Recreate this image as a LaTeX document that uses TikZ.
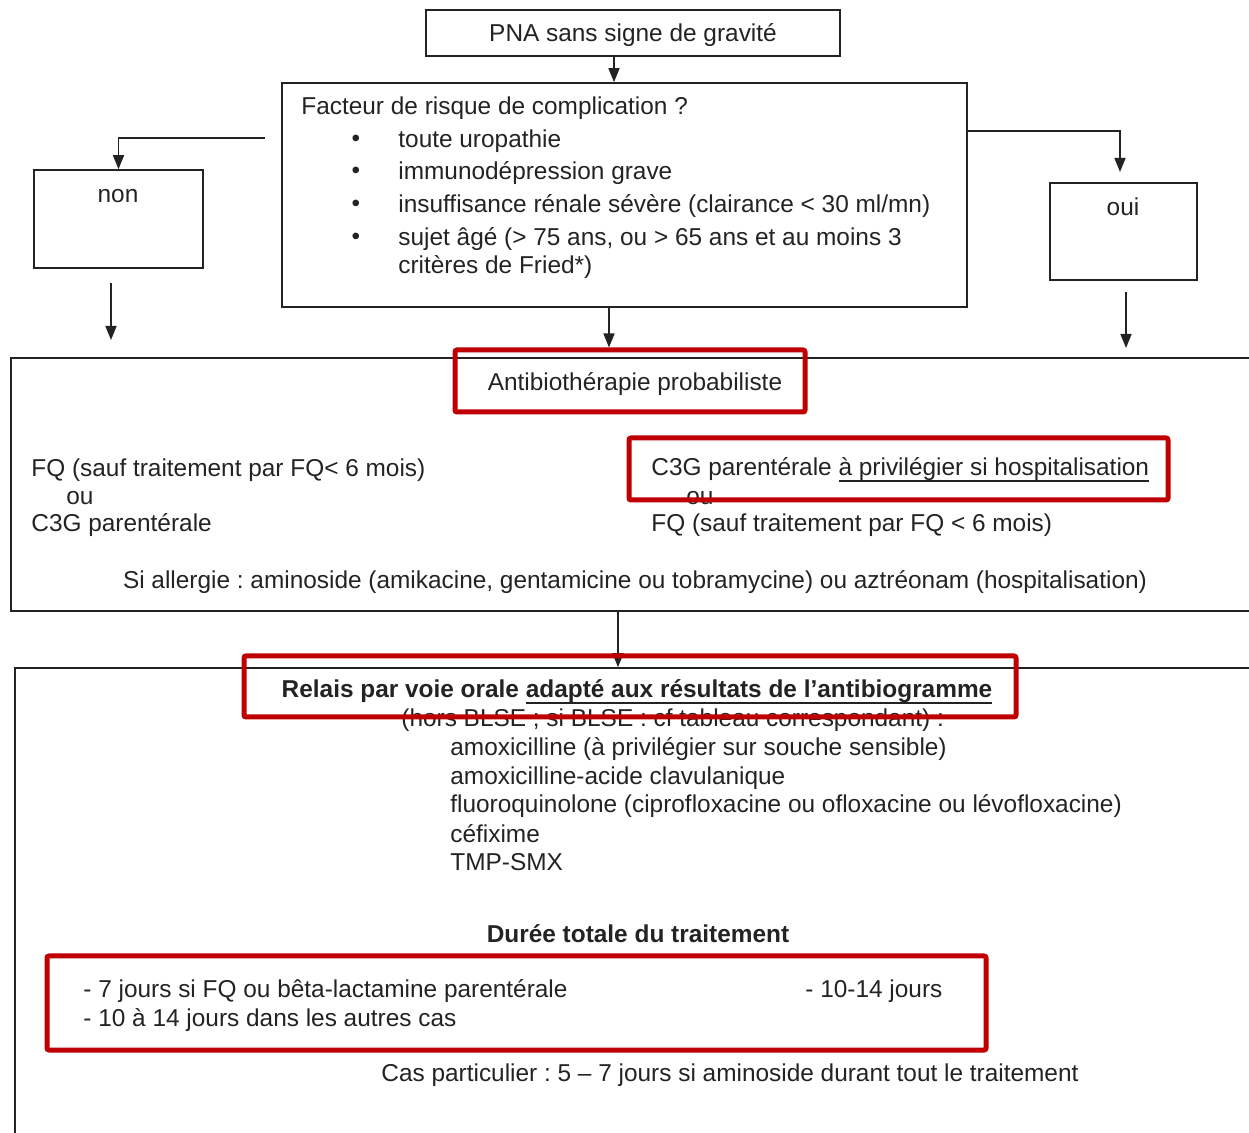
\documentclass[tikz,border=0pt]{standalone}
\usepackage{fontspec}
\setmainfont{Liberation Sans}
\usetikzlibrary{arrows.meta,positioning}
\frenchspacing
\definecolor{dfred}{RGB}{192,0,0}
\definecolor{dfgray}{RGB}{35,35,35}
\newcommand{\dfuline}[1]{\setbox0\hbox{#1}\rlap{\rule[-3.4pt]{\wd0}{1.2pt}}#1}
\tikzstyle{arrow} = [line width=0.8pt,-{Triangle[length=7pt,width=5.5pt]},color=dfgray]
\tikzstyle{box} = [rectangle, draw=dfgray, line width=0.8pt, inner sep=0pt]
\tikzstyle{redbox} = [rectangle, draw=dfred, line width=2.5pt, rounded corners=1pt, inner sep=0pt]
\tikzstyle{txt} = [anchor=west, inner sep=0pt, text=dfgray]
\tikzstyle{ctxt} = [inner sep=0pt, text=dfgray]

\begin{document}
\begin{tikzpicture}[x=0.5pt, y=-0.5pt, font=\fontsize{12.2}{14}\selectfont]
\useasboundingbox (0,0) rectangle (1249,1133);
\clip (0,0) rectangle (1249,1133);

% Top of the tree
\node (pna) [box, minimum width=207pt, minimum height=23pt] at (633,33) {};
\node (pnatxt) [ctxt] at (633,35) {PNA sans signe de gravité};
\node (facteur) [box, minimum width=342.5pt, minimum height=112pt] at (624.5,195) {};
\node (non) [box, minimum width=84.5pt, minimum height=49pt] at (118.5,219) {};
\node (oui) [box, minimum width=73.5pt, minimum height=48.5pt] at (1123.5,231.5) {};
\node (nontxt) [ctxt] at (118,196) {non};
\node (ouitxt) [ctxt] at (1123,207) {oui};

% Risk factors
\node (question) [txt] at (301,108) {Facteur de risque de complication ?};
\foreach \y/\t [count=\i] in {141/{toute uropathie}, 173/{immunodépression grave}, 206/{insuffisance rénale sévère (clairance < 30 ml/mn)}, 239/{sujet âgé (> 75 ans, ou > 65 ans et au moins 3}} {
  \node (bul\i) [ctxt] at (356,\y) {\textbullet};
  \node (item\i) [txt] at (398,\y) {\t};
}
\node (fried) [txt] at (398,267) {critères de Fried*)};

% Connectors of the tree
\coordinate (nonstart) at (265,138);
\coordinate (ouistart) at (967,131);
\coordinate (ouiend) at (1120,172);
\coordinate (nondownA) at (111,283);
\coordinate (nondownB) at (111,340);
\coordinate (ouidownA) at (1126,292);
\coordinate (ouidownB) at (1126,348);
\coordinate (midA) at (614,0);
\coordinate (midB) at (609,0);
\coordinate (midC) at (618,0);
\draw[arrow] (midA |- pna.south) -- (midA |- facteur.north);
\draw[arrow] (nonstart) -| (non.north);
\draw[arrow] (ouistart) -| (ouiend);
\draw[arrow] (nondownA) -- (nondownB);
\draw[arrow] (ouidownA) -- (ouidownB);

% Empirical therapy
\node (antibio) [box, minimum width=629.5pt, minimum height=126.5pt] at (640.5,484.5) {};
\node (fq1) [txt] at (31,470) {FQ (sauf traitement par FQ< 6 mois)};
\node (ou1) [txt] at (66,498) {ou};
\node (c3g1) [txt] at (31,525) {C3G parentérale};
\node (c3g2) [txt] at (651,470) {C3G parentérale \dfuline{à privilégier si hospitalisation}};
\node (ou2) [txt] at (686,498) {ou};
\node (fq2) [txt] at (651,525) {FQ (sauf traitement par FQ < 6 mois)};
\node (allergie) [ctxt] at (635,582) {Si allergie : aminoside (amikacine, gentamicine ou tobramycine) ou aztréonam (hospitalisation)};
\node (rantibio) [redbox, minimum width=175pt, minimum height=31pt] at (630,381) {};
\node (antibiotxt) [ctxt] at (635,384) {Antibiothérapie probabiliste};
\node (rc3g) [redbox, minimum width=269.5pt, minimum height=31pt] at (898.5,469) {};
\draw[arrow] (midB |- facteur.south) -- (midB |- rantibio.north);

% Oral relay
\node (relais) [box, minimum width=627.5pt, minimum height=241pt] at (642.5,909) {};
\draw[arrow] (midC |- antibio.south) -- (midC |- relais.north);
\node (relaistxt) [ctxt, font=\fontsize{12.2}{14}\selectfont\bfseries] at (637,692) {Relais par voie orale \dfuline{adapté aux résultats de l’antibiogramme}};
\node (hors) [txt] at (401,720) {(hors BLSE ; si BLSE : cf tableau correspondant) :};
\foreach \y/\t [count=\i] in {749/{amoxicilline (à privilégier sur souche sensible)}, 778/{amoxicilline-acide clavulanique}, 806/{fluoroquinolone (ciprofloxacine ou ofloxacine ou lévofloxacine)}, 834/{céfixime}, 862/{TMP-SMX}} {
  \node (oral\i) [txt] at (450,\y) {\t};
}
\node (rrelais) [redbox, minimum width=386pt, minimum height=30.5pt] at (630,686.5) {};

% Duration
\node (duree) [ctxt, font=\fontsize{12.2}{14}\selectfont\bfseries] at (638,934) {Durée totale du traitement};
\node (d1) [txt] at (83,991) {- 7 jours si FQ ou bêta-lactamine parentérale};
\node (d2) [txt] at (83,1020) {- 10 à 14 jours dans les autres cas};
\node (d3) [txt] at (805,991) {- 10-14 jours};
\node (rduree) [redbox, minimum width=469.5pt, minimum height=47pt] at (516.5,1003) {};
\node (cas) [txt] at (381,1075) {Cas particulier : 5 – 7 jours si aminoside durant tout le traitement};
\end{tikzpicture}
\end{document}
